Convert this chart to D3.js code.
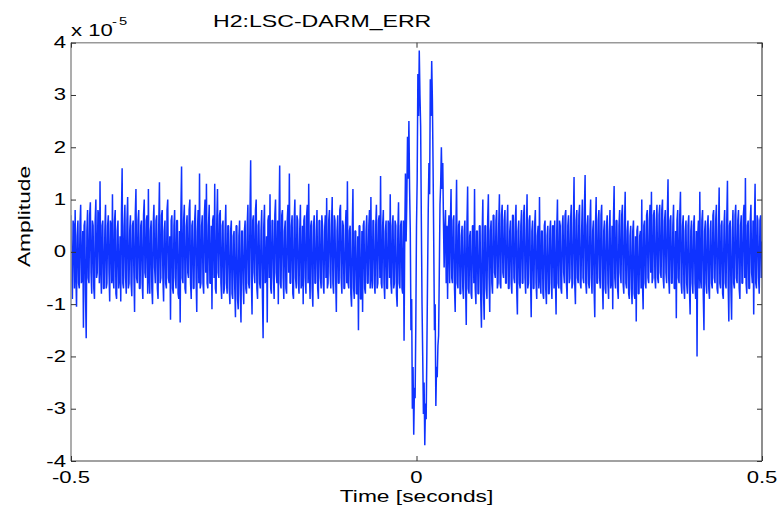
<!DOCTYPE html>
<html>
<head>
<meta charset="utf-8">
<script src="https://cdn.jsdelivr.net/npm/d3@7"></script>
<style>
  body { margin: 0; background: #fff; }
  svg { display: block; }
  text { font-family: "Liberation Sans", Arial, Helvetica, sans-serif; fill: #000; }
</style>
</head>
<body>
<div id="chart"></div>
<script>
// labels and ticks
var titleText = "H2:LSC-DARM_ERR";
var xLabelText = "Time [seconds]";
var yLabelText = "Amplitude";
var xTicks = [-0.5, 0, 0.5];
var yTicks = [-4, -3, -2, -1, 0, 1, 2, 3, 4];
var yExponent = "-5";

// sampled signal, amplitude in units of 1e-5, one value every 1 ms from -0.5 s
var startTime = -0.5;
var sampleStep = 0.001;
var amplitude = [
  // -0.50
  0.7, -0.5, -0.9, 0.6, 0.5, -0.7, 0.8, -0.4, -1.05, 0.3, 0.6, -0.6, -0.7, 0.5, 0.9, -0.6, -0.5, 0.4, -1.45, 0.5, 0.6, -0.8, -1.65, 0.4, 0.8,
  -0.5, -0.6, 0.7, 0.95, -0.4, -0.8, 0.6, 0.5, -0.7, -0.9, 0.6, 1.0, -0.5, -0.4, 0.8, 0.7, -0.6, 1.35, -0.3, -0.8, 0.5, 0.6, -0.7, -0.7, 0.4,
  // -0.45
  0.9, -0.7, -0.6, 0.5, 0.7, -0.4, -0.95, 0.6, 0.5, -0.6, 1.1, -0.5, -0.7, 0.6, 0.8, -0.8, -0.9, 0.4, 0.6, -0.7, -0.5, 0.3, -0.95, 0.7, 1.6,
  -0.6, -0.7, 0.5, 0.9, -0.5, -0.8, 0.6, 1.05, -0.7, -0.6, 0.4, 0.7, -0.6, -0.85, 0.5, 0.6, -0.4, -1.15, 0.7, 1.2, -0.5, -0.6, 0.6, 0.8, -0.7,
  // -0.40
  -0.7, 0.5, 0.6, -0.6, -0.9, 0.7, 1.0, -0.4, -0.5, 0.6, 0.7, -0.8, 1.2, -0.5, -0.8, 0.4, 0.6, -0.7, -1.0, 0.5, 0.9, -0.3, -0.6, 0.6, 0.7,
  -0.7, -0.9, 0.5, 1.33, -0.6, -0.5, 0.7, 0.8, -0.5, -0.95, 0.4, 0.6, -0.6, -0.7, 0.8, 1.0, -0.5, -0.6, 0.3, -1.3, 0.6, 0.7, -0.7, -0.8, 0.5,
  // -0.35
  0.8, -0.5, -0.7, 0.6, 0.6, -0.8, -0.9, 0.4, -1.35, 0.7, 1.63, -0.5, -0.6, 0.6, 0.9, -0.7, -0.8, 0.5, 0.7, -0.4, -0.5, 0.8, 1.0, -0.6, -0.9,
  0.5, 0.6, -0.7, -0.7, 0.6, 0.9, -0.5, -1.15, 0.4, 0.8, -0.6, 1.5, -0.7, -0.6, 0.5, 0.7, -0.6, -0.8, 0.7, 1.0, -0.4, 1.3, -0.6, -0.7, 0.5,
  // -0.30
  0.9, -0.6, -0.6, 0.5, -1.1, 0.6, 0.7, -0.5, 1.3, -0.7, -0.8, 0.6, 1.2, -0.4, -0.5, 0.7, 0.8, -0.6, -0.9, 0.5, 0.6, -0.8, -0.7, 0.4, 0.9,
  -0.6, -0.8, 0.5, 0.5, -0.7, -1.0, 0.4, 0.6, -0.8, -0.9, 0.3, 0.4, -0.7, -1.25, 0.5, 0.5, -0.9, -1.1, 0.3, 0.6, -0.8, -1.35, 0.4, 0.4, -0.6,
  // -0.25
  -1.0, 0.4, 0.6, -0.7, -0.8, 0.5, 0.9, -0.6, -0.7, 0.7, 1.75, -0.5, -1.2, 0.6, 0.7, -0.4, -0.6, 0.8, 1.0, -0.7, -0.9, 0.5, 0.6, -0.6, -0.7,
  0.4, 0.8, -0.8, -1.65, 0.5, 0.9, -0.6, -0.5, 0.3, -1.35, 0.6, 0.7, -0.5, 1.1, -0.7, -0.8, 0.6, 0.6, -0.5, -0.9, 0.7, 1.0, -0.4, -0.6, 0.6,
  // -0.20
  -1.0, 0.5, 1.65, -0.6, -0.7, 0.7, 0.8, -0.5, -0.9, 0.4, 0.6, -0.7, -0.8, 0.6, 0.9, -0.4, 1.5, -0.6, -0.6, 0.5, 0.7, -0.8, -0.9, 0.6, 1.0,
  -0.5, -0.7, 0.7, 0.6, -0.6, -0.8, 0.4, 0.9, -0.7, -0.6, 0.5, -1.0, 0.6, 0.7, -0.5, -0.8, 0.7, 0.9, -0.6, 1.3, -0.4, -0.9, 0.5, 0.6, -0.7,
  // -0.15
  -1.05, 0.5, 0.7, -0.6, -0.6, 0.4, 0.8, -0.7, -0.9, 0.6, 0.6, -0.5, -0.7, 0.7, 0.5, -0.6, -0.8, 0.4, 0.7, -0.5, 1.03, -0.7, -0.6, 0.6, 0.8,
  -0.4, -0.7, 0.5, 1.05, -0.6, -0.8, 0.7, 0.6, -0.5, -1.15, 0.4, 0.7, -0.6, -0.6, 0.8, 0.9, -0.5, -0.8, 0.6, 0.5, -0.7, -0.7, 0.4, 0.8, -0.6,
  // -0.10
  1.35, -0.6, -0.7, 0.4, 0.5, -0.8, -1.05, 0.3, 1.2, -0.7, -0.9, 0.4, 0.4, -0.8, -0.8, 0.3, -1.5, 0.5, 0.5, -0.9, -0.9, 0.4, -1.15, 0.5, 0.6,
  -0.7, -0.8, 0.4, 0.7, -0.6, -0.6, 0.5, 0.8, -0.7, 1.05, -0.5, -0.7, 0.6, 0.6, -0.6, -0.8, 0.5, 0.9, -0.7, -0.6, 0.6, 0.7, -0.5, 1.45, -0.6,
  // -0.05, burst starts near -0.02
  -0.7, 0.5, 0.8, -0.6, -0.9, 0.4, 0.6, -0.7, -0.7, 0.6, 0.5, -0.5, 1.1, -0.6, -0.8, 0.5, 0.7, -0.7, -0.6, 0.6, 0.5, -0.8, -1.05, 0.4, 0.95,
  -0.6, -0.7, 0.5, 0.6, -0.7,
  -0.8, 0.6, -1.7, 0.3, 1.5, 0.2, 1.0, 2.2, 1.4, 2.5, 1.2, 0.4, -1.5, -0.9, -3.0, -2.2, -3.5, -2.6, -2.8, -1.4,
  // 0.00
  0.5, 1.4, 3.4, 2.6, 3.85, 3.0, 2.4, 0.6, -1.0, -2.0, -3.1, -2.5, -3.7, -2.9, -3.2, -1.9, -0.5, 0.8, 1.7, 1.1, 3.3, 2.6, 3.65, 2.9, 1.6,
  0.1, -1.5, -1.0, -2.95, -2.2, -2.4, -1.8, -1.6, -0.4, 0.9, 1.3, 2.0, 1.2, 1.7, 0.6, -0.3, 0.4, 0.8,
  -0.6, 0.5, -0.9, 0.4, 0.7, -0.6, 0.5,
  // 0.05
  1.2, -0.5, -0.6, 0.6, 0.7, -0.7, -1.15, 0.4, 1.38, -0.6, -0.7, 0.5, 0.6, -0.8, -0.8, 0.3, 0.5, -0.7, -0.9, 0.4, 0.6, -0.6, -1.4, 0.5, 1.25,
  -0.7, -0.8, 0.3, 0.4, -0.8, -0.9, 0.5, 0.5, -0.6, 1.2, -0.7, -1.0, 0.4, 0.4, -0.8, -0.8, 0.5, 0.5, -0.9, -1.45, 0.3, 1.0, -0.8, -1.3, 0.5,
  // 0.10
  0.5, -0.7, -0.9, 0.6, 1.1, -0.5, -1.15, 0.4, 0.6, -0.6, -0.8, 0.7, 0.7, -0.4, -0.5, 0.6, 0.8, -0.7, -0.6, 0.5, 1.1, -0.6, -0.7, 0.7, 0.9,
  -0.4, -0.5, 0.6, 0.8, -0.6, -0.6, 0.5, 0.9, -0.7, -0.7, 0.4, 0.6, -0.6, -0.8, 0.7, 0.7, -0.5, -0.6, 0.6, 0.9, -0.7, -1.2, 0.4, 0.6, -0.6,
  // 0.15
  -0.7, 0.5, 0.8, -0.6, -0.6, 0.7, 0.9, -0.5, -0.8, 0.4, 1.1, -0.7, -0.6, 0.6, 0.7, -0.5, -1.25, 0.4, 0.6, -0.7, -0.7, 0.5, 0.8, -0.6, -0.9,
  0.3, 0.5, -0.7, 1.05, -0.5, -0.8, 0.4, 0.4, -0.8, -0.9, 0.5, 0.6, -0.7, -1.0, 0.3, 0.5, -0.8, -0.8, 0.4, 0.6, -0.6, -0.9, 0.5, 0.5, -0.7,
  // 0.20
  0.6, -0.5, -1.2, 0.4, 1.0, -0.6, -0.7, 0.6, 0.5, -0.7, -0.8, 0.5, 0.7, -0.4, -0.6, 0.7, 0.8, -0.6, -0.9, 0.5, 0.7, -0.6, -0.5, 0.6, 0.9,
  -0.7, -0.6, 0.5, 1.43, -0.6, -1.0, 0.6, 0.8, -0.5, -0.6, 0.7, 0.9, -0.6, -0.7, 0.4, 1.0, -0.5, -0.6, 0.8, 1.47, -0.6, -0.8, 0.5, 0.7, -0.6,
  // 0.25
  -0.7, 0.6, 1.0, -0.5, -0.8, 0.4, 0.6, -0.7, -1.25, 0.5, 1.05, -0.6, -0.6, 0.6, 0.8, -0.5, -0.7, 0.7, 0.9, -0.6, -1.1, 0.4, 0.6, -0.7, -0.8,
  0.5, 0.7, -0.6, -0.9, 0.4, 0.8, -0.7, -0.6, 0.5, -1.1, 0.6, 1.26, -0.5, -0.7, 0.6, 0.6, -0.7, -0.9, 0.5, 0.8, -0.4, -0.6, 0.7, 0.9, -0.6,
  // 0.30
  -0.8, 0.5, 1.15, -0.6, -0.7, 0.4, 0.6, -0.8, -0.9, 0.3, 0.5, -0.7, -1.0, 0.4, 0.6, -0.8, -0.9, 0.3, -1.33, 0.4, 0.5, -0.8, -0.8, 0.3, 0.4,
  -0.7, 1.0, -0.6, -1.1, 0.5, 0.6, -0.6, -0.7, 0.7, 0.8, -0.5, -0.6, 0.6, 0.9, -0.4, 1.15, -0.6, -0.5, 0.7, 0.8, -0.5, -0.7, 0.6, 0.9, -0.5,
  // 0.35
  -0.6, 0.7, 0.9, -0.4, -0.5, 0.8, 1.0, -0.5, -0.7, 0.6, 0.8, -0.4, -0.6, 0.7, 1.39, -0.5, -0.8, 0.6, 0.7, -0.6, -0.6, 0.5, 0.9, -0.7, -0.7,
  0.4, -1.27, 0.6, 0.8, -0.5, -0.6, 0.7, 1.15, -0.6, -0.8, 0.5, 0.7, -0.7, -0.9, 0.4, 0.6, -0.6, -0.8, 0.5, 0.7, -0.7, -1.2, 0.4, 0.6, -0.6,
  // 0.40
  -0.8, 0.5, 0.7, -0.6, -0.9, 0.4, -2.0, 0.3, 0.6, -0.7, 1.15, -0.5, -0.7, 0.6, 0.8, -0.8, -1.5, 0.4, 0.6, -0.6, -0.8, 0.5, 0.7, -0.7, -0.9,
  0.4, 0.6, -0.6, -0.7, 0.7, 0.8, -0.5, -0.6, 0.6, 0.9, -0.7, -0.8, 0.4, 1.23, -0.6, -0.7, 0.5, 0.6, -0.8, -0.9, 0.5, 0.8, -0.6, -0.7, 0.6,
  // 0.45
  1.36, -0.6, -1.33, 0.5, 0.6, -0.7, -1.3, 0.4, 0.8, -0.6, -0.7, 0.7, 0.9, -0.5, -0.6, 0.6, 0.8, -0.7, -0.9, 0.5, 0.7, -0.6, -0.6, 0.7, 0.9,
  -0.5, 1.41, -0.6, -0.8, 0.5, 0.6, -0.7, -0.7, 0.6, 0.9, -0.4, -0.6, 0.6, -1.2, 0.5, 1.3, -0.6, -0.7, 0.7, 0.6, -0.5, -0.8, 0.6, 0.7, -0.5,
  // 0.50
  0.2
];

var width = 778, height = 509;
var margin = { top: 42.7, right: 16, bottom: 48, left: 71 };
var plotW = width - margin.left - margin.right,
    plotH = height - margin.top - margin.bottom;

var x = d3.scaleLinear().domain([-0.5, 0.5]).range([0, plotW]);
var y = d3.scaleLinear().domain([-4, 4]).range([plotH, 0]);

var svg = d3.select("#chart").append("svg")
    .attr("width", width)
    .attr("height", height);

svg.append("defs").append("clipPath").attr("id", "plotclip")
  .append("rect").attr("width", plotW).attr("height", plotH);

var g = svg.append("g")
    .attr("transform", "translate(" + margin.left + "," + margin.top + ")");

// the signal
var line = d3.line()
    .x(function(d, i) { return x(startTime + i * sampleStep); })
    .y(function(d) { return y(d); });

g.append("path")
    .datum(amplitude)
    .attr("clip-path", "url(#plotclip)")
    .attr("fill", "none")
    .attr("stroke", "#0f33ff")
    .attr("stroke-width", 1.5)
    .attr("stroke-linejoin", "bevel")
    .attr("d", line);

// box (top/left lighter like the original)
g.append("line").attr("x1", 0).attr("x2", plotW).attr("y1", 0).attr("y2", 0)
  .attr("stroke", "#999").attr("stroke-width", 1.6);
g.append("line").attr("x1", 0).attr("x2", 0).attr("y1", 0).attr("y2", plotH)
  .attr("stroke", "#999").attr("stroke-width", 1.6);
g.append("line").attr("x1", 0).attr("x2", plotW).attr("y1", plotH).attr("y2", plotH)
  .attr("stroke", "#444").attr("stroke-width", 1.2);
g.append("line").attr("x1", plotW).attr("x2", plotW).attr("y1", 0).attr("y2", plotH)
  .attr("stroke", "#444").attr("stroke-width", 1.2);

// inward ticks on all four sides
function tickAxis(axis, tx, ty) {
  var a = g.append("g")
    .attr("transform", "translate(" + tx + "," + ty + ")")
    .call(axis);
  a.select(".domain").remove();
  a.selectAll(".tick line").attr("stroke", "#333");
  a.selectAll(".tick text").remove();
}
tickAxis(d3.axisLeft(y).tickValues(yTicks).tickSize(-5), 0, 0);
tickAxis(d3.axisRight(y).tickValues(yTicks).tickSize(-5), plotW, 0);
tickAxis(d3.axisBottom(x).tickValues(xTicks).tickSize(-5), 0, plotH);
tickAxis(d3.axisTop(x).tickValues(xTicks).tickSize(-5), 0, 0);

// text is drawn wide like the original rendering
function addText(str, px, py, anchor, size, rotate, sx) {
  return svg.append("text")
    .attr("transform", "translate(" + px + "," + py + ")" +
      (rotate ? " rotate(" + rotate + ")" : "") + " scale(" + (sx || 1.34) + ",1)")
    .attr("text-anchor", anchor)
    .style("font-size", size + "px")
    .text(str);
}

yTicks.forEach(function(v) {
  addText(String(v), margin.left - 5, margin.top + y(v) + 5.5, "end", 16.5);
});
xTicks.forEach(function(v) {
  addText(String(v), margin.left + x(v), 482.5, "middle", 16.5);
});

addText("x 10", margin.left, 36, "start", 16.5);
addText(yExponent, 112, 25, "start", 11).style("letter-spacing", "1.5px");

addText(titleText, 213, 27, "start", 17, 0, 1.36);
addText(xLabelText, margin.left + x(0), 502, "middle", 17);
addText(yLabelText, 29.5, 216.5, "middle", 17, -90);
</script>
</body>
</html>
